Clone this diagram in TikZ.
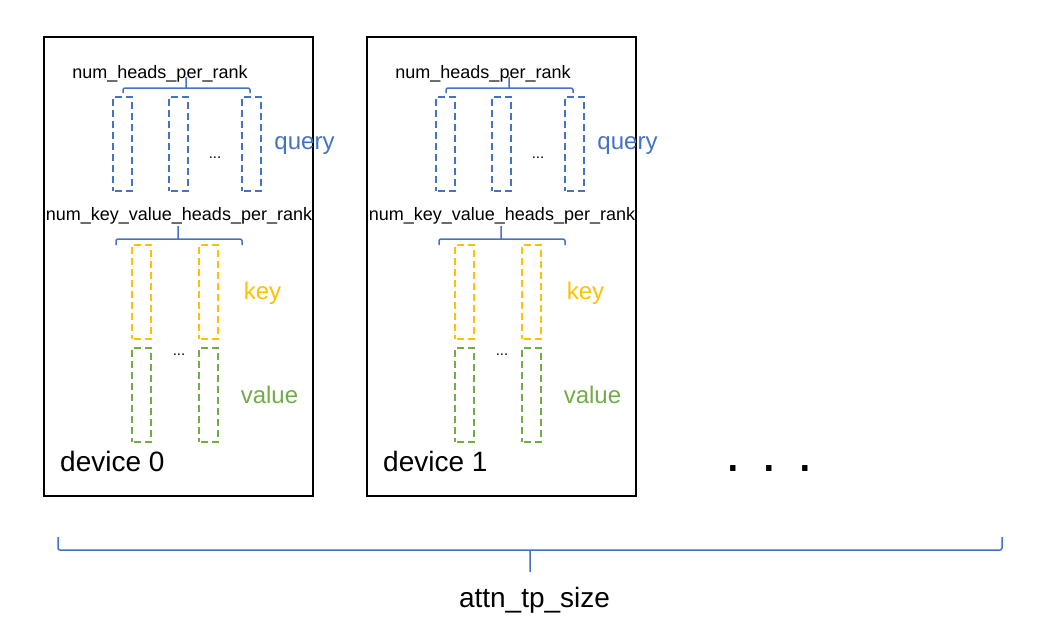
\documentclass[tikz,border=0pt]{standalone}
\usepackage{fontspec}
\setmainfont{Liberation Sans}
\usetikzlibrary{positioning}
\definecolor{qblue}{HTML}{4472C4}
\definecolor{kgold}{HTML}{FFC000}
\definecolor{vgreen}{HTML}{70AD47}

\tikzset{
	device/.style={draw, line width=2pt, minimum width=269pt, minimum height=459pt, inner sep=0pt},
	head/.style={draw, dash pattern=on 7pt off 4pt, dash phase=-2pt, line width=1.8pt, minimum width=19pt, minimum height=94pt, inner sep=0pt},
	qhead/.style={head, qblue},
	khead/.style={head, kgold},
	vhead/.style={head, vgreen},
	brace/.style={qblue, line width=1.5pt, rounded corners=2pt},
	small/.style={font=\fontsize{18pt}{20pt}\selectfont, inner sep=0pt, anchor=base},
	tag/.style={font=\fontsize{24pt}{28pt}\selectfont, inner sep=0pt, anchor=base},
	big/.style={font=\fontsize{28pt}{32pt}\selectfont, inner sep=0pt, anchor=base},
}

\begin{document}
\begin{tikzpicture}[x=1pt, y=-1pt]
	\useasboundingbox (0,0) rectangle (1052,633);
	
	\foreach \d in {0,1}{
		\begin{scope}[xshift=\d*323pt]
			\node[device] (dev\d) at (178.5,266.5) {};
			\node[big, anchor=base west] (name\d) at (60,471) {device \d};
			
			% query heads
			\node[small] (nh\d) at (160,78) {num\_heads\_per\_rank};
			\node[qhead] (q\d a) at (122.5,144) {};
			\node[qhead] (q\d b) at (178.5,144) {};
			\node[qhead] (q\d c) at (251.5,144) {};
			\node[small, font=\fontsize{15pt}{16pt}\selectfont] (qdots\d) at (215,158) {...};
			\node[tag, text=qblue] (query\d) at (304.5,149) {query};
			\draw[brace] (123,93) -- (123,88) -- (250,88) -- (250,93) (186,88) -- (186,77);
			
			% key / value heads
			\node[small] (nkv\d) at (179,220) {num\_key\_value\_heads\_per\_rank};
			\node[khead] (k\d a) at (141.5,292) {};
			\node[khead] (k\d b) at (208.5,292) {};
			\node[vhead] (v\d a) at (141.5,395) {};
			\node[vhead] (v\d b) at (208.5,395) {};
			\node[small, font=\fontsize{15pt}{16pt}\selectfont] (kvdots\d) at (179,355) {...};
			\node[tag, text=kgold] (key\d) at (262.5,299) {key};
			\node[tag, text=vgreen] (value\d) at (269.5,403) {value};
			\draw[brace] (116,245) -- (116,239) -- (242,239) -- (242,245) (178,239) -- (178,226);
		\end{scope}
	}
	
	\node[font=\fontsize{56pt}{56pt}\selectfont, inner sep=0pt, anchor=base west] (more) at (725,471) {. . .};
	
	\draw[brace] (58,537) -- (58,550) -- (1002,550) -- (1002,537) (530,550) -- (530,572);
	\node[big] (tp) at (534.5,607) {attn\_tp\_size};
\end{tikzpicture}
\end{document}
